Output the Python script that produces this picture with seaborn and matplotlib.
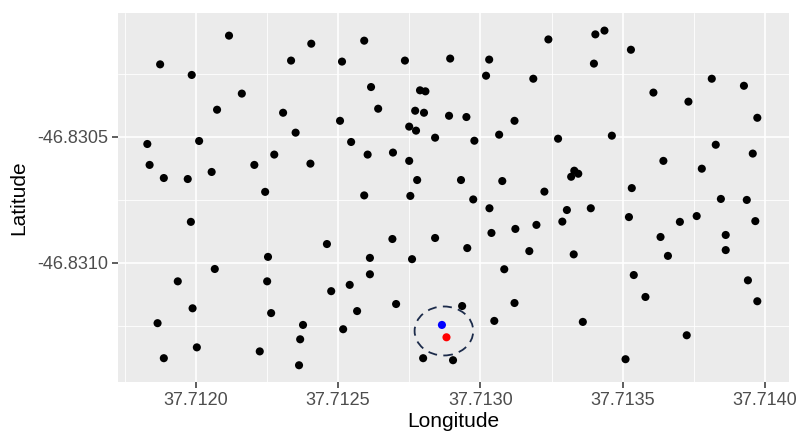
import numpy as np
import pandas as pd
import matplotlib
matplotlib.use("Agg")
import matplotlib.pyplot as plt
from matplotlib.patches import Ellipse
from matplotlib.ticker import FixedLocator
import seaborn as sns

# Sampled locations (longitude, latitude)
lon = [
    37.712117, 37.712406, 37.712335, 37.711875, 37.711986, 37.712162, 37.712075, 37.712307,
    37.712351, 37.711830, 37.712012, 37.712276, 37.711838, 37.712206, 37.712403, 37.711888,
    37.711972, 37.712056, 37.712244,
    37.712592, 37.712514, 37.712735, 37.712894, 37.713031, 37.713239, 37.713020, 37.713186,
    37.712616, 37.712788, 37.712807, 37.712641, 37.712771, 37.712802, 37.712890, 37.712951,
    37.713120, 37.712507, 37.712750, 37.712774, 37.712841, 37.712979, 37.713066, 37.713273,
    37.712546, 37.712604, 37.712693, 37.712750, 37.712778, 37.712932, 37.713077, 37.713225,
    37.712592, 37.712754, 37.712975,
    37.713404, 37.713436, 37.713529, 37.713399, 37.713813, 37.713926, 37.713608, 37.713731,
    37.713973, 37.713462, 37.713827, 37.713957, 37.713643, 37.713778, 37.713330, 37.713344,
    37.713319, 37.713532,
    37.711983, 37.712461, 37.712254, 37.712067, 37.711937, 37.712251, 37.712476, 37.711989,
    37.712265, 37.711866, 37.712377, 37.712367, 37.712004, 37.712225, 37.711888, 37.712363,
    37.713032, 37.712691, 37.712841, 37.712954, 37.713039, 37.713123, 37.713197, 37.713172,
    37.712612, 37.712760, 37.712612, 37.712541, 37.713084, 37.712704, 37.712936, 37.713120,
    37.712567, 37.712518, 37.713049, 37.712799, 37.712904,
    37.713304, 37.713388, 37.713288, 37.713522, 37.713701, 37.713760, 37.713845, 37.713936,
    37.713966, 37.713862, 37.713633, 37.713328, 37.713659, 37.713862, 37.713539, 37.713940,
    37.713580, 37.713973, 37.713360, 37.713725, 37.713510,
]
lat = [
    -46.830099, -46.830131, -46.830198, -46.830213, -46.830255, -46.830329, -46.830393, -46.830405,
    -46.830484, -46.830529, -46.830517, -46.830571, -46.830612, -46.830612, -46.830607, -46.830664,
    -46.830668, -46.830640, -46.830719,
    -46.830119, -46.830202, -46.830198, -46.830190, -46.830194, -46.830114, -46.830258, -46.830270,
    -46.830303, -46.830316, -46.830320, -46.830389, -46.830397, -46.830405, -46.830417, -46.830422,
    -46.830437, -46.830437, -46.830460, -46.830476, -46.830504, -46.830516, -46.830492, -46.830508,
    -46.830521, -46.830571, -46.830563, -46.830596, -46.830672, -46.830672, -46.830676, -46.830718,
    -46.830733, -46.830735, -46.830749,
    -46.830094, -46.830079, -46.830155, -46.830210, -46.830270, -46.830298, -46.830325, -46.830361,
    -46.830425, -46.830496, -46.830532, -46.830567, -46.830596, -46.830627, -46.830635, -46.830647,
    -46.830659, -46.830704,
    -46.830838, -46.830926, -46.830977, -46.831025, -46.831074, -46.831074, -46.831113, -46.831181,
    -46.831200, -46.831240, -46.831247, -46.831304, -46.831336, -46.831352, -46.831379, -46.831407,
    -46.830784, -46.830906, -46.830902, -46.830942, -46.830882, -46.830866, -46.830850, -46.830954,
    -46.830981, -46.830986, -46.831046, -46.831088, -46.831026, -46.831164, -46.831172, -46.831160,
    -46.831192, -46.831264, -46.831231, -46.831379, -46.831387,
    -46.830791, -46.830784, -46.830837, -46.830819, -46.830838, -46.830815, -46.830747, -46.830751,
    -46.830835, -46.830890, -46.830898, -46.830967, -46.830973, -46.830950, -46.831049, -46.831070,
    -46.831136, -46.831153, -46.831235, -46.831288, -46.831383,
]

# Two highlighted positions and the search radius around them
blue_lon, blue_lat = [37.712865], [-46.831247]
red_lon, red_lat = [37.712881], [-46.831296]
circle_center = (37.712872, -46.831271)
circle_radius_lon = 0.000103
circle_radius_lat = 0.0000972

x_ticks = [37.7120, 37.7125, 37.7130, 37.7135, 37.7140]
x_tick_labels = ["37.7120", "37.7125", "37.7130", "37.7135", "37.7140"]
y_ticks = [-46.8310, -46.8305]
y_tick_labels = ["-46.8310", "-46.8305"]
x_minor = [37.71175, 37.71225, 37.71275, 37.71325, 37.71375]
y_minor = [-46.83125, -46.83075, -46.83025]

pts = pd.DataFrame({"Longitude": lon, "Latitude": lat})

sns.set_theme(style="darkgrid")
plt.rcParams["font.family"] = ["Liberation Sans", "DejaVu Sans"]

fig = plt.figure(figsize=(7.96, 4.37), dpi=100)
ax = fig.add_axes([0.1486, 0.1252, 0.8426, 0.8444])
ax.set_facecolor("#EBEBEB")

dot = 34
sns.scatterplot(data=pts, x="Longitude", y="Latitude", color="black", s=dot,
                edgecolor="none", ax=ax, zorder=3)
sns.scatterplot(x=blue_lon, y=blue_lat, color="#0000FF", s=dot, edgecolor="none",
                ax=ax, zorder=4)
sns.scatterplot(x=red_lon, y=red_lat, color="#FF0000", s=dot, edgecolor="none",
                ax=ax, zorder=4)

ax.add_patch(Ellipse(circle_center, 2 * circle_radius_lon, 2 * circle_radius_lat,
                     fill=False, edgecolor="#1C2B4A", linewidth=1.3,
                     linestyle=(0, (5, 3.5)), zorder=5))

ax.set_xlim(37.711728, 37.7140843)
ax.set_ylim(-46.8314746, -46.8300103)

ax.xaxis.set_major_locator(FixedLocator(x_ticks))
ax.yaxis.set_major_locator(FixedLocator(y_ticks))
ax.set_xticklabels(x_tick_labels)
ax.set_yticklabels(y_tick_labels)
ax.xaxis.set_minor_locator(FixedLocator(x_minor))
ax.yaxis.set_minor_locator(FixedLocator(y_minor))

ax.grid(which="major", color="white", linewidth=1.2)
ax.grid(which="minor", color="white", linewidth=0.6)
ax.set_axisbelow(True)
for sp in ax.spines.values():
    sp.set_visible(False)

ax.tick_params(axis="x", which="major", pad=3)
ax.tick_params(axis="y", which="major", pad=3)
ax.tick_params(axis="both", which="major", length=4, width=1.1, color="#333333",
               labelsize=13, labelcolor="#4D4D4D", bottom=True, left=True)
ax.tick_params(axis="both", which="minor", length=0)

ax.set_xlabel("Longitude", fontsize=15, color="black", labelpad=2)
ax.set_ylabel("Latitude", fontsize=15, color="black", labelpad=7)

fig.savefig("out.png", dpi=100, facecolor="white")
